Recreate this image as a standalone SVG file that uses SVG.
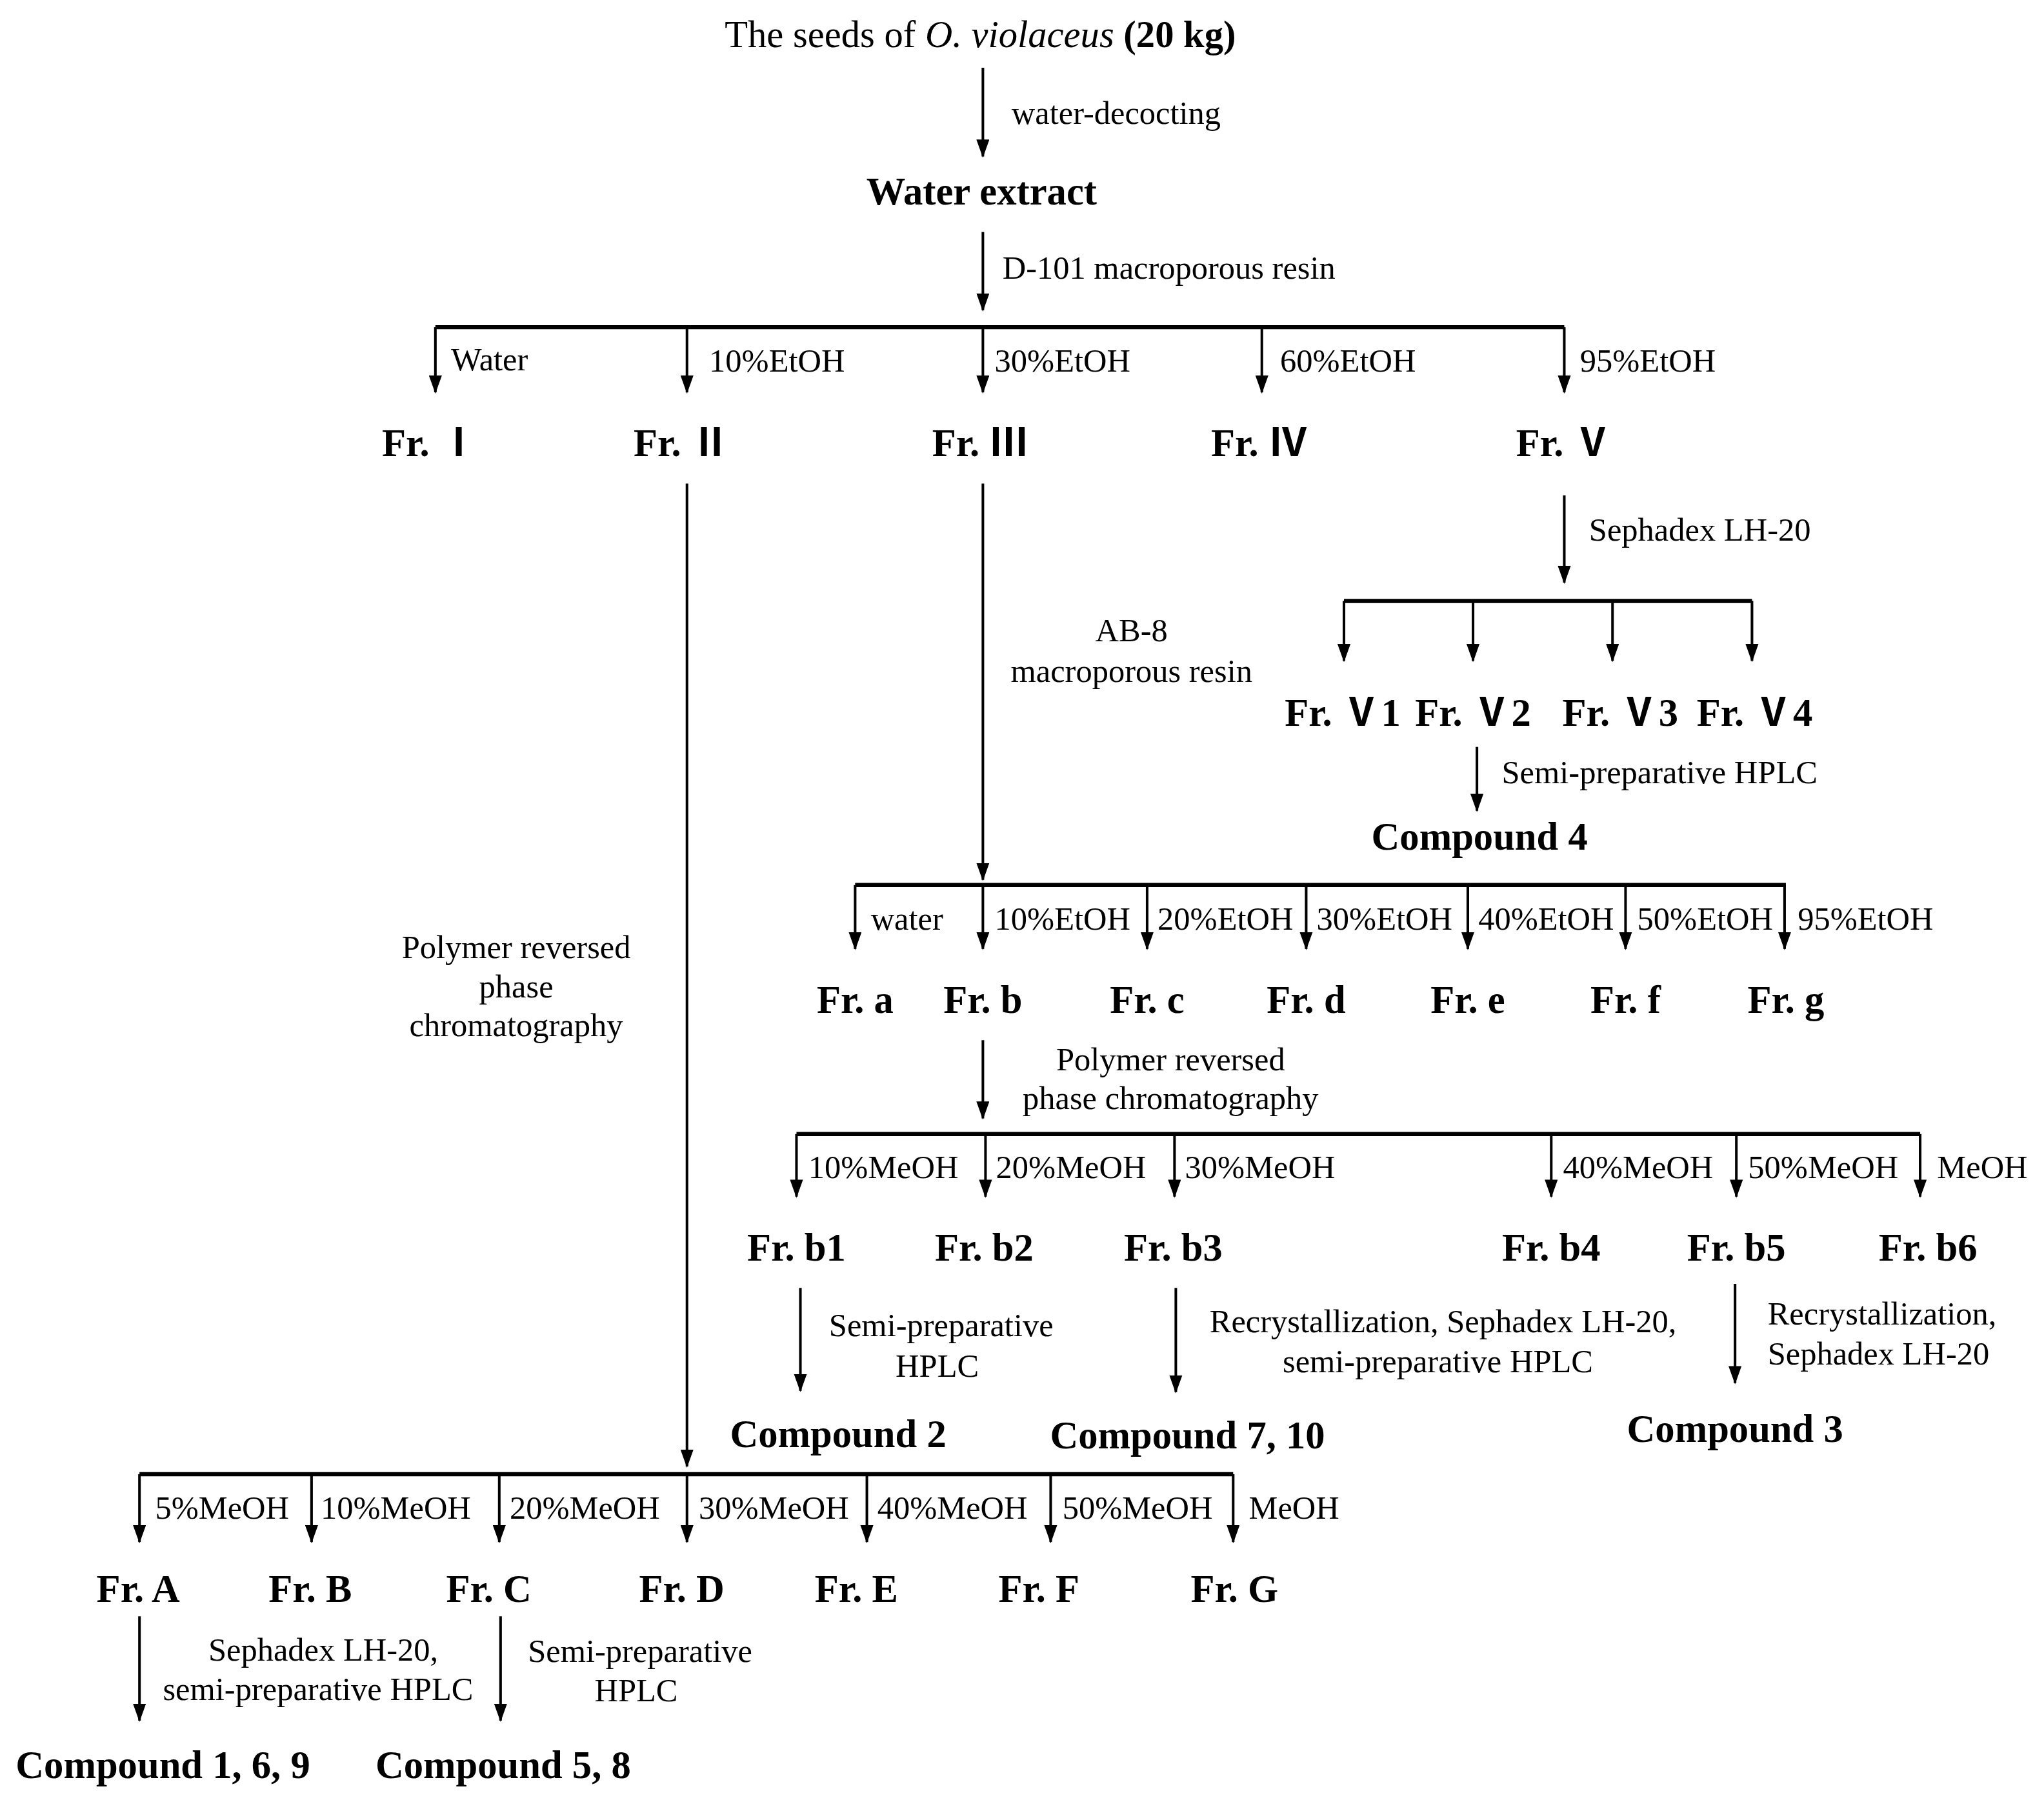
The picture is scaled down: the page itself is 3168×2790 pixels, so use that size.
<svg xmlns="http://www.w3.org/2000/svg" width="3168" height="2790" viewBox="0 0 3168 2790">
<style>
text{font-family:"Liberation Serif","Noto Sans CJK SC",serif;fill:#000}
.l{font-size:25px}
.b{font-size:30px;font-weight:bold}
.m{text-anchor:middle}
.a{stroke:#000;stroke-width:2;fill:none;marker-end:url(#ah)}
.bus{stroke:#000;stroke-width:3.2;fill:none}
</style>
<defs><marker id="ah" markerUnits="userSpaceOnUse" markerWidth="14" markerHeight="10" refX="13" refY="5" orient="auto"><path d="M0,0 L14,5 L0,10Z" fill="#000"/></marker></defs>
<rect width="3168" height="2790" fill="#fff"/>
<g transform="scale(2.0204)">
<g id="connectors">
<path class="a" d="M754,52V120"/>
<path class="a" d="M754,178V238"/>
<path class="bus" d="M334,251H1200"/>
<path class="a" d="M334,251V301"/><path class="a" d="M527,251V301"/><path class="a" d="M754,251V301"/><path class="a" d="M968,251V301"/><path class="a" d="M1200,251V301"/>
<path class="a" d="M527,371V1125"/>
<path class="a" d="M754,371V675"/>
<path class="a" d="M1200,380V447"/>
<path class="bus" d="M1031,461H1344"/>
<path class="a" d="M1031,461V507"/><path class="a" d="M1130,461V507"/><path class="a" d="M1237,461V507"/><path class="a" d="M1344,461V507"/>
<path class="a" d="M1133,573V622"/>
<path class="bus" d="M656,679H1370"/>
<path class="a" d="M656,679V728"/><path class="a" d="M754,679V728"/><path class="a" d="M880,679V728"/><path class="a" d="M1002,679V728"/><path class="a" d="M1126,679V728"/><path class="a" d="M1247,679V728"/><path class="a" d="M1369,679V728"/>
<path class="a" d="M754,798V858"/>
<path class="bus" d="M611,870H1473"/>
<path class="a" d="M611,870V918"/><path class="a" d="M756,870V918"/><path class="a" d="M901,870V918"/><path class="a" d="M1190,870V918"/><path class="a" d="M1332,870V918"/><path class="a" d="M1473,870V918"/>
<path class="a" d="M614,988V1067"/>
<path class="a" d="M902,988V1068"/>
<path class="a" d="M1331,985V1061"/>
<path class="bus" d="M107,1131H946"/>
<path class="a" d="M107,1131V1183"/><path class="a" d="M239,1131V1183"/><path class="a" d="M383,1131V1183"/><path class="a" d="M527,1131V1183"/><path class="a" d="M665,1131V1183"/><path class="a" d="M806,1131V1183"/><path class="a" d="M946,1131V1183"/>
<path class="a" d="M107,1240V1320"/>
<path class="a" d="M384,1240V1320"/>
</g>
<g id="labels">
<text class="l" x="776" y="95">water-decocting</text>
<text class="l" x="769" y="214">D-101 macroporous resin</text>
<text class="l" x="346" y="284">Water</text>
<text class="l" x="544" y="285">10%EtOH</text>
<text class="l" x="763" y="285">30%EtOH</text>
<text class="l" x="982" y="285">60%EtOH</text>
<text class="l" x="1212" y="285">95%EtOH</text>
<text class="l" x="1219" y="415">Sephadex LH-20</text>
<text class="l" x="1152" y="601">Semi-preparative HPLC</text>
<text class="l m" x="868" y="492">AB-8</text>
<text class="l m" x="868" y="523">macroporous resin</text>
<text class="l" x="668" y="713">water</text>
<text class="l" x="763" y="713">10%EtOH</text>
<text class="l" x="888" y="713">20%EtOH</text>
<text class="l" x="1010" y="713">30%EtOH</text>
<text class="l" x="1134" y="713">40%EtOH</text>
<text class="l" x="1256" y="713">50%EtOH</text>
<text class="l" x="1379" y="713">95%EtOH</text>
<text class="l m" x="396" y="735">Polymer reversed</text>
<text class="l m" x="396" y="765">phase</text>
<text class="l m" x="396" y="795">chromatography</text>
<text class="l m" x="898" y="821">Polymer reversed</text>
<text class="l m" x="898" y="851">phase chromatography</text>
<text class="l" x="620" y="904">10%MeOH</text>
<text class="l" x="764" y="904">20%MeOH</text>
<text class="l" x="909" y="904">30%MeOH</text>
<text class="l" x="1199" y="904">40%MeOH</text>
<text class="l" x="1341" y="904">50%MeOH</text>
<text class="l" x="1486" y="904">MeOH</text>
<text class="l m" x="722" y="1025">Semi-preparative</text>
<text class="l m" x="719" y="1056">HPLC</text>
<text class="l m" x="1107" y="1022">Recrystallization, Sephadex LH-20,</text>
<text class="l m" x="1103" y="1053">semi-preparative HPLC</text>
<text class="l" x="1356" y="1016">Recrystallization,</text>
<text class="l" x="1356" y="1047">Sephadex LH-20</text>
<text class="l" x="119" y="1165">5%MeOH</text>
<text class="l" x="246" y="1165">10%MeOH</text>
<text class="l" x="391" y="1165">20%MeOH</text>
<text class="l" x="536" y="1165">30%MeOH</text>
<text class="l" x="673" y="1165">40%MeOH</text>
<text class="l" x="815" y="1165">50%MeOH</text>
<text class="l" x="958" y="1165">MeOH</text>
<text class="l m" x="248" y="1274">Sephadex LH-20,</text>
<text class="l m" x="244" y="1304">semi-preparative HPLC</text>
<text class="l m" x="491" y="1275">Semi-preparative</text>
<text class="l m" x="488" y="1305">HPLC</text>
</g>
<g id="n-seeds"><text class="m" x="752" y="36" style="font-size:29px">The seeds of <tspan font-style="italic">O. violaceus</tspan> <tspan font-weight="bold">(20 kg)</tspan></text></g>
<g id="n-water"><text class="b m" x="753" y="157">Water extract</text></g>
<g id="n-fr1"><text class="b m" x="330" y="350">Fr. Ⅰ</text></g>
<g id="n-fr2"><text class="b m" x="523" y="350">Fr. Ⅱ</text></g>
<g id="n-fr3"><text class="b m" x="752" y="350">Fr. Ⅲ</text></g>
<g id="n-fr4"><text class="b m" x="966" y="350">Fr. Ⅳ</text></g>
<g id="n-fr5"><text class="b m" x="1200" y="350">Fr. Ⅴ</text></g>
<g id="n-v1"><text class="b m" x="1030" y="557">Fr. Ⅴ1</text></g>
<g id="n-v2"><text class="b m" x="1130" y="557">Fr. Ⅴ2</text></g>
<g id="n-v3"><text class="b m" x="1243" y="557">Fr. Ⅴ3</text></g>
<g id="n-v4"><text class="b m" x="1346" y="557">Fr. Ⅴ4</text></g>
<g id="n-c4"><text class="b m" x="1135" y="652">Compound 4</text></g>
<g id="n-fa"><text class="b m" x="656" y="777">Fr. a</text></g>
<g id="n-fb"><text class="b m" x="754" y="777">Fr. b</text></g>
<g id="n-fc"><text class="b m" x="880" y="777">Fr. c</text></g>
<g id="n-fd"><text class="b m" x="1002" y="777">Fr. d</text></g>
<g id="n-fe"><text class="b m" x="1126" y="777">Fr. e</text></g>
<g id="n-ff"><text class="b m" x="1247" y="777">Fr. f</text></g>
<g id="n-fg"><text class="b m" x="1370" y="777">Fr. g</text></g>
<g id="n-b1"><text class="b m" x="611" y="967">Fr. b1</text></g>
<g id="n-b2"><text class="b m" x="755" y="967">Fr. b2</text></g>
<g id="n-b3"><text class="b m" x="900" y="967">Fr. b3</text></g>
<g id="n-b4"><text class="b m" x="1190" y="967">Fr. b4</text></g>
<g id="n-b5"><text class="b m" x="1332" y="967">Fr. b5</text></g>
<g id="n-b6"><text class="b m" x="1479" y="967">Fr. b6</text></g>
<g id="n-c2"><text class="b m" x="643" y="1110">Compound 2</text></g>
<g id="n-c710"><text class="b m" x="911" y="1111">Compound 7, 10</text></g>
<g id="n-c3"><text class="b m" x="1331" y="1106">Compound 3</text></g>
<g id="n-fA"><text class="b m" x="106" y="1229">Fr. A</text></g>
<g id="n-fB"><text class="b m" x="238" y="1229">Fr. B</text></g>
<g id="n-fC"><text class="b m" x="375" y="1229">Fr. C</text></g>
<g id="n-fD"><text class="b m" x="523" y="1229">Fr. D</text></g>
<g id="n-fE"><text class="b m" x="657" y="1229">Fr. E</text></g>
<g id="n-fF"><text class="b m" x="797" y="1229">Fr. F</text></g>
<g id="n-fG"><text class="b m" x="947" y="1229">Fr. G</text></g>
<g id="n-c169"><text class="b m" x="125" y="1364">Compound 1, 6, 9</text></g>
<g id="n-c58"><text class="b m" x="386" y="1364">Compound 5, 8</text></g>
</g>
</svg>
